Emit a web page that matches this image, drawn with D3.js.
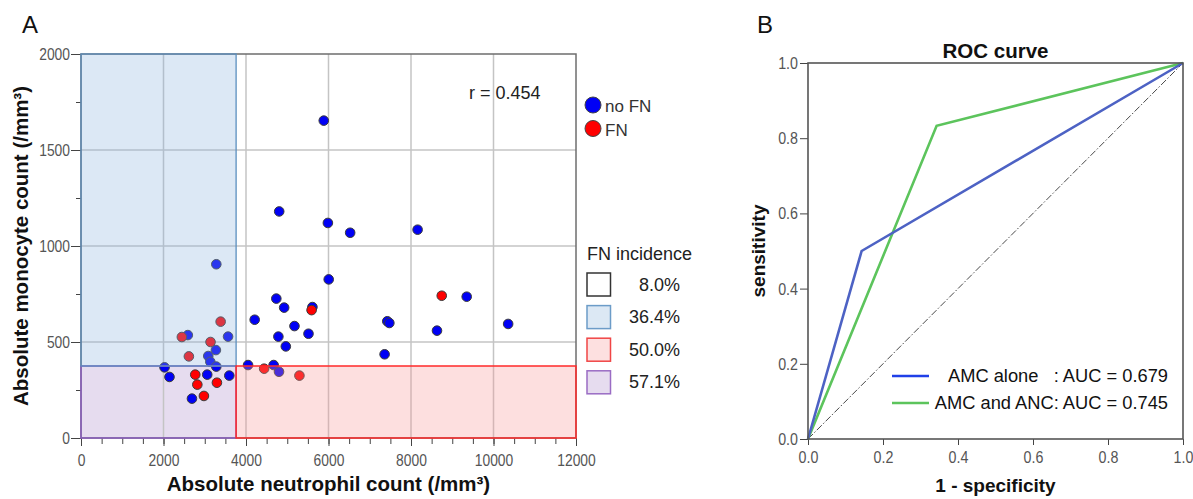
<!DOCTYPE html>
<html><head><meta charset="utf-8">
<script src="https://cdn.jsdelivr.net/npm/d3@7"></script>
<style>
body{margin:0;background:#fff}
svg{display:block}
text{font-family:"Liberation Sans",Arial,sans-serif}
</style>
</head><body>
<svg id="c" width="1193" height="499"></svg>
<script>
// ---------- Panel A data ----------
const ancNoFN = [3280,2590,3565,3270,3085,3135,3280,2025,2145,3060,3595,2690,
  5885,4805,5985,6525,8160,6005,4735,4925,5610,4210,5175,4785,5515,4965,4050,4670,
  9350,7425,7475,8630,10355,7360,4800];
const amcNoFN = [905,536,528,458,427,397,372,368,318,330,325,205,
  1653,1180,1120,1069,1085,826,726,679,682,616,583,528,543,477,380,380,
  736,608,599,559,594,436,345];
const ancFN = [3385,2445,3140,2615,2770,3295,2820,2980,5590,8745,4440,5295];
const amcFN = [606,526,500,425,330,288,278,219,666,741,361,325];
const xTicksA = [0,2000,4000,6000,8000,10000,12000];
const yTicksA = [0,500,1000,1500,2000];
const ancCut = 3760, amcCut = 375;
const groupLabels = ["no FN","FN"];
const incidenceLabels = ["8.0%","36.4%","50.0%","57.1%"];
const corrLabel = "r = 0.454";

// ---------- Panel B data ----------
const fprAMC = [0,0.143,1], tprAMC = [0,0.5,1];
const fprBoth = [0,0.343,1], tprBoth = [0,0.833,1];
const rocTicks = [0,0.2,0.4,0.6,0.8,1.0];
const rocLegend = ["AMC alone   : AUC = 0.679","AMC and ANC: AUC = 0.745"];

const svg = d3.select("#c");
const SX = 0.84; // condensed tick labels

function styleBottomTicks(g, size){
  g.select(".domain").remove();
  g.selectAll("line").attr("stroke","#444");
  g.selectAll("text").attr("font-size",size).attr("fill","#555")
    .attr("transform",`scale(${SX},1)`);
}
function styleLeftTicks(g, size, off){
  g.select(".domain").remove();
  g.selectAll("line").attr("stroke","#444");
  g.selectAll("text").attr("font-size",size).attr("fill","#555")
    .attr("x",0).attr("transform",`translate(${-off},0) scale(${SX},1)`);
}

// ===== Panel A =====
const xA = d3.scaleLinear([0,12000],[81,576]);
const yA = d3.scaleLinear([0,2000],[438,54]);
const gA = svg.append("g");

gA.append("rect").attr("x",xA(0)).attr("y",yA(2000)).attr("width",xA(12000)-xA(0)).attr("height",yA(0)-yA(2000)).attr("fill","#fff");
gA.append("rect").attr("x",xA(0)).attr("y",yA(amcCut)).attr("width",xA(ancCut)-xA(0)).attr("height",yA(0)-yA(amcCut)).attr("fill","#e6dcef");
gA.selectAll(".gx").data(xTicksA.slice(1,-1)).join("line")
  .attr("x1",d=>xA(d)).attr("x2",d=>xA(d)).attr("y1",yA(0)).attr("y2",yA(2000))
  .attr("stroke","#c4c4c4").attr("stroke-width",1.5);
gA.selectAll(".gy").data(yTicksA.slice(1,-1)).join("line")
  .attr("x1",xA(0)).attr("x2",xA(12000)).attr("y1",d=>yA(d)).attr("y2",d=>yA(d))
  .attr("stroke","#c4c4c4").attr("stroke-width",1.5);
gA.selectAll(".pn").data(ancNoFN.map((v,i)=>[v,amcNoFN[i]])).join("circle")
  .attr("cx",d=>xA(d[0])).attr("cy",d=>yA(d[1])).attr("r",4.8)
  .attr("fill","#0000f5").attr("stroke","#3a3a3a").attr("stroke-width",1);
gA.selectAll(".pf").data(ancFN.map((v,i)=>[v,amcFN[i]])).join("circle")
  .attr("cx",d=>xA(d[0])).attr("cy",d=>yA(d[1])).attr("r",4.8)
  .attr("fill","#ff0000").attr("stroke","#3a3a3a").attr("stroke-width",1);
gA.append("rect").attr("x",xA(0)).attr("y",yA(2000)).attr("width",xA(ancCut)-xA(0)).attr("height",yA(amcCut)-yA(2000))
  .attr("fill","rgb(140,180,222)").attr("fill-opacity",0.3);
gA.append("rect").attr("x",xA(ancCut)).attr("y",yA(amcCut)).attr("width",xA(12000)-xA(ancCut)).attr("height",yA(0)-yA(amcCut))
  .attr("fill","rgb(250,150,150)").attr("fill-opacity",0.3);

const axB = gA.append("g").attr("transform",`translate(0,${yA(0)})`)
  .call(d3.axisBottom(xA).tickValues(d3.range(0,12001,500)).tickSize(6).tickFormat(""));
styleBottomTicks(axB,16);
const axB2 = gA.append("g").attr("transform",`translate(0,${yA(0)})`)
  .call(d3.axisBottom(xA).tickValues(xTicksA).tickSize(8).tickPadding(8).tickFormat(d3.format("d")));
styleBottomTicks(axB2,16.5);

const axL = gA.append("g").attr("transform",`translate(${xA(0)},0)`)
  .call(d3.axisLeft(yA).tickValues(d3.range(0,2001,250)).tickSize(5).tickFormat(""));
styleLeftTicks(axL,16,7);
const axL2 = gA.append("g").attr("transform",`translate(${xA(0)},0)`)
  .call(d3.axisLeft(yA).tickValues(yTicksA).tickSize(10).tickFormat(d3.format("d")));
styleLeftTicks(axL2,16.5,11);

gA.append("rect").attr("x",xA(0)).attr("y",yA(2000)).attr("width",xA(12000)-xA(0)).attr("height",yA(0)-yA(2000))
  .attr("fill","none").attr("stroke","#6e6e6e").attr("stroke-width",1.5);
gA.append("rect").attr("x",xA(0)).attr("y",yA(amcCut)).attr("width",xA(ancCut)-xA(0)).attr("height",yA(0)-yA(amcCut))
  .attr("fill","none").attr("stroke","#8a5cc0").attr("stroke-width",1.5);
gA.append("rect").attr("x",xA(0)).attr("y",yA(2000)).attr("width",xA(ancCut)-xA(0)).attr("height",yA(amcCut)-yA(2000))
  .attr("fill","none").attr("stroke","#5b8ebf").attr("stroke-width",1.3);
gA.append("rect").attr("x",xA(ancCut)).attr("y",yA(amcCut)).attr("width",xA(12000)-xA(ancCut)).attr("height",yA(0)-yA(amcCut))
  .attr("fill","none").attr("stroke","#ff2a2a").attr("stroke-width",1.5);

gA.append("text").attr("x",469).attr("y",99).attr("font-size",18).attr("fill","#222").text(corrLabel);
svg.append("text").attr("x",22).attr("y",33).attr("font-size",24).attr("fill","#111").text("A");
svg.append("text").attr("x",(xA(0)+xA(12000))/2).attr("y",491).attr("text-anchor","middle")
  .attr("font-size",20.5).attr("font-weight","bold").attr("fill","#111").text("Absolute neutrophil count (/mm³)");
svg.append("text").attr("transform",`translate(28,${(yA(0)+yA(2000))/2}) rotate(-90)`).attr("text-anchor","middle")
  .attr("font-size",20.5).attr("font-weight","bold").attr("fill","#111").text("Absolute monocyte count (/mm³)");

const grpCol = ["#0000f5","#ff0000"];
groupLabels.forEach((t,i)=>{
  svg.append("circle").attr("cx",593).attr("cy",105+i*23.5).attr("r",8).attr("fill",grpCol[i]).attr("stroke","#444").attr("stroke-width",1);
  svg.append("text").attr("x",605).attr("y",112+i*23.5).attr("font-size",17).attr("fill","#333").text(t);
});
svg.append("text").attr("x",587).attr("y",260).attr("font-size",18).attr("fill","#222").text("FN incidence");
const boxFill = ["#ffffff","#dce8f4","#fde0e0","#e6dcef"];
const boxStroke = ["#333","#6c9cc8","#f04545","#9a6cc4"];
incidenceLabels.forEach((t,i)=>{
  svg.append("rect").attr("x",587).attr("y",273+i*32.6).attr("width",23.5).attr("height",23)
    .attr("fill",boxFill[i]).attr("stroke",boxStroke[i]).attr("stroke-width",1.5);
  svg.append("text").attr("x",680).attr("y",290.5+i*32.6).attr("text-anchor","end").attr("font-size",18).attr("fill","#222").text(t);
});

// ===== Panel B =====
const xB = d3.scaleLinear([0,1],[808,1183]);
const yB = d3.scaleLinear([0,1],[439,63]);
const gB = svg.append("g");
const bx = gB.append("g").attr("transform",`translate(0,${yB(0)})`)
  .call(d3.axisBottom(xB).tickValues(rocTicks).tickSize(6).tickPadding(6).tickFormat(d3.format(".1f")));
styleBottomTicks(bx,17);
const by = gB.append("g").attr("transform",`translate(${xB(0)},0)`)
  .call(d3.axisLeft(yB).tickValues(rocTicks).tickSize(8).tickFormat(d3.format(".1f")));
styleLeftTicks(by,17,10);

gB.append("line").attr("x1",xB(0)).attr("y1",yB(0)).attr("x2",xB(1)).attr("y2",yB(1))
  .attr("stroke","#333").attr("stroke-width",0.9).attr("stroke-dasharray","7,2,1.5,2");
const line = d3.line().x(d=>xB(d[0])).y(d=>yB(d[1]));
gB.append("path").attr("d",line(fprBoth.map((v,i)=>[v,tprBoth[i]]))).attr("fill","none").attr("stroke","#5cc45c").attr("stroke-width",2.6);
gB.append("path").attr("d",line(fprAMC.map((v,i)=>[v,tprAMC[i]]))).attr("fill","none").attr("stroke","#4d62c4").attr("stroke-width",2.6);
gB.append("rect").attr("x",xB(0)).attr("y",yB(1)).attr("width",xB(1)-xB(0)).attr("height",yB(0)-yB(1))
  .attr("fill","none").attr("stroke","#555").attr("stroke-width",1.6);

const legCol = ["#2040e8","#5cc45c"];
rocLegend.forEach((t,i)=>{
  svg.append("line").attr("x1",892).attr("x2",929).attr("y1",376+i*27).attr("y2",376+i*27).attr("stroke",legCol[i]).attr("stroke-width",2.6);
  svg.append("text").attr("x",1168).attr("y",382+i*27).attr("text-anchor","end").attr("font-size",18.3).attr("fill","#111")
    .style("white-space","pre").text(t);
});
svg.append("text").attr("x",(xB(0)+xB(1))/2).attr("y",58).attr("text-anchor","middle").attr("font-size",20.5).attr("font-weight","bold").attr("fill","#111").text("ROC curve");
svg.append("text").attr("x",(xB(0)+xB(1))/2).attr("y",492).attr("text-anchor","middle").attr("font-size",19).attr("font-weight","bold").attr("fill","#111").text("1 - specificity");
svg.append("text").attr("transform",`translate(765,${(yB(0)+yB(1))/2}) rotate(-90)`).attr("text-anchor","middle").attr("font-size",19).attr("font-weight","bold").attr("fill","#111").text("sensitivity");
svg.append("text").attr("x",757).attr("y",33).attr("font-size",24).attr("fill","#111").text("B");
</script>
</body></html>
